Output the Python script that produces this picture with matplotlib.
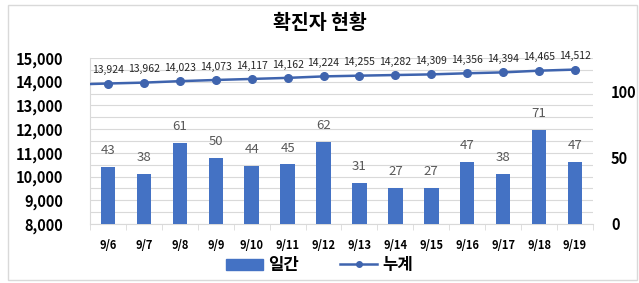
import matplotlib.pyplot as plt
from matplotlib.patches import Rectangle
from matplotlib.lines import Line2D
from matplotlib.ticker import MultipleLocator, FuncFormatter

plt.rcParams['font.family'] = ['Noto Sans CJK KR', 'DejaVu Sans']

# data
dates = ['9/6', '9/7', '9/8', '9/9', '9/10', '9/11', '9/12',
         '9/13', '9/14', '9/15', '9/16', '9/17', '9/18', '9/19']
daily = [43, 38, 61, 50, 44, 45, 62, 31, 27, 27, 47, 38, 71, 47]
total = [13924, 13962, 14023, 14073, 14117, 14162, 14224,
         14255, 14282, 14309, 14356, 14394, 14465, 14512]
prev_total = 13881  # 9/5, line runs in from the left edge

bar_color = '#4472C4'
line_color = '#3F64AE'
grid_color = '#D9D9D9'

fig = plt.figure(figsize=(6.39, 2.83), dpi=100)
fig.patches.append(Rectangle((8 / 639, 3 / 283), 629 / 639, 275 / 283,
                             transform=fig.transFigure, fill=False,
                             edgecolor='#D9D9D9', linewidth=1))

ax = fig.add_axes([90 / 639, 59 / 283, 503 / 639, 166 / 283])
ax2 = ax.twinx()

x = list(range(len(dates)))

# left axis (cumulative) carries the grid
ax.set_ylim(8000, 15000)
ax.yaxis.set_major_locator(MultipleLocator(1000))
ax.yaxis.set_minor_locator(MultipleLocator(500))
ax.yaxis.set_major_formatter(FuncFormatter(lambda v, p: f'{int(v):,}'))
ax.grid(True, which='both', axis='y', color=grid_color, linewidth=0.8)
ax.set_axisbelow(True)
ax.tick_params(axis='y', which='both', length=0, pad=19, labelsize=10.5)
for lab in ax.get_yticklabels():
    lab.set_fontweight('bold')

# bars on the right axis
ax2.set_ylim(0, 125)
ax2.set_yticks([0, 50, 100])
ax2.tick_params(axis='y', length=0, pad=13, labelsize=10.5)
for lab in ax2.get_yticklabels():
    lab.set_fontweight('bold')
ax2.bar(x, daily, width=0.4, color=bar_color, zorder=2)
for xi, v in zip(x, daily):
    ax2.annotate(str(v), (xi, v), xytext=(0, 7), textcoords='offset points',
                 ha='center', va='bottom', fontsize=9.5, color='#595959')

# cumulative line drawn on top
line_ax = ax.figure.add_axes(ax.get_position(), sharex=ax, sharey=ax)
line_ax.axis('off')
line_ax.plot([-1] + x, [prev_total] + total, color=line_color, linewidth=1.8,
             marker='o', markersize=5.5, markevery=list(range(1, len(x) + 1)),
             clip_on=True, zorder=3)
for xi, v in zip(x, total):
    line_ax.annotate(f'{v:,}', (xi, v), xytext=(0, 6), textcoords='offset points',
                     ha='center', va='bottom', fontsize=7.5, color='#262626')

ax.set_xlim(-0.5, len(dates) - 0.5)
ax.set_xticks(x)
ax.set_xticklabels(dates, fontsize=8, fontweight='bold')
ax.set_xticks([i + 0.5 for i in range(-1, len(dates))], minor=True)
ax.tick_params(axis='x', which='major', length=0, pad=11)
ax.tick_params(axis='x', which='minor', length=4, color=grid_color)

for a in (ax, ax2):
    for s in ('top', 'right'):
        a.spines[s].set_visible(False)
ax2.spines['left'].set_visible(False)
ax2.spines['bottom'].set_visible(False)
ax.spines['left'].set_color(grid_color)
ax.spines['bottom'].set_color(grid_color)

fig.text(0.5, 0.918, '확진자 현황', ha='center', va='center',
         fontsize=14, fontweight='bold')

handles = [Rectangle((0, 0), 1, 1, color=bar_color),
           Line2D([0], [0], color=line_color, marker='o', markersize=4, linewidth=1.8)]
fig.legend(handles, ['일간', '누계'], loc='center', bbox_to_anchor=(0.5, 0.063),
           ncol=2, frameon=False, prop={'size': 12, 'weight': 'bold'},
           handlelength=2.2, columnspacing=2.5, handletextpad=0.3)

fig.savefig('out.png', dpi=100)
